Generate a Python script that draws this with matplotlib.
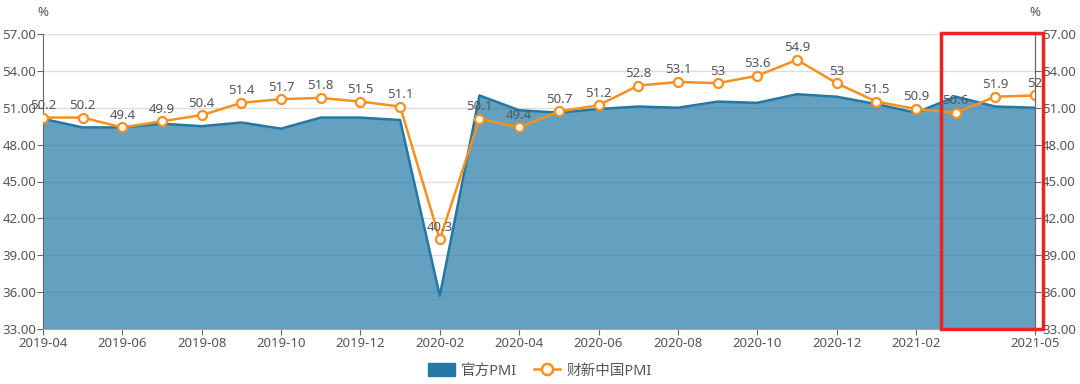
# %% Modules

import numpy as np
import matplotlib.pyplot as plt
import matplotlib.patches as mpatches
from matplotlib.lines import Line2D

plt.rcParams["font.family"] = ["Noto Sans", "Noto Sans CJK SC", "DejaVu Sans"]

# %% Data

months = [
    "2019-04", "2019-05", "2019-06", "2019-07", "2019-08", "2019-09", "2019-10",
    "2019-11", "2019-12", "2020-01", "2020-02", "2020-03", "2020-04", "2020-05",
    "2020-06", "2020-07", "2020-08", "2020-09", "2020-10", "2020-11", "2020-12",
    "2021-01", "2021-02", "2021-03", "2021-04", "2021-05",
]
official_pmi = [
    50.1, 49.4, 49.4, 49.7, 49.5, 49.8, 49.3, 50.2, 50.2, 50.0, 35.7, 52.0, 50.8,
    50.6, 50.9, 51.1, 51.0, 51.5, 51.4, 52.1, 51.9, 51.3, 50.6, 51.9, 51.1, 51.0,
]
caixin_pmi = [
    50.2, 50.2, 49.4, 49.9, 50.4, 51.4, 51.7, 51.8, 51.5, 51.1, 40.3, 50.1, 49.4,
    50.7, 51.2, 52.8, 53.1, 53.0, 53.6, 54.9, 53.0, 51.5, 50.9, 50.6, 51.9, 52.0,
]
tick_labels = ["2019-04", "2019-06", "2019-08", "2019-10", "2019-12", "2020-02",
               "2020-04", "2020-06", "2020-08", "2020-10", "2020-12", "2021-02", "2021-05"]

# %% Plot setup

text_color = "#555555"
axis_color = "#666666"
blue = "#2378a6"
orange = "#f7901e"

fig = plt.figure(figsize = (10.8, 3.84), dpi = 100)
ax = fig.add_axes([43 / 1080, 55 / 384, 992 / 1080, 295 / 384])

x = np.arange(len(months))

ax.fill_between(x, 33, official_pmi, color = blue, alpha = 0.7, linewidth = 0, zorder = 1)
ax.plot(x, official_pmi, color = blue, linewidth = 1.8, zorder = 2)
ax.plot(x, caixin_pmi, color = orange, linewidth = 1.8, marker = "o", markersize = 6.5,
        markerfacecolor = "white", markeredgecolor = orange, markeredgewidth = 1.6, zorder = 4)

for xi, val in zip(x, caixin_pmi):
    label = f"{val:g}"
    ax.annotate(label, (xi, val), xytext = (0, 4), textcoords = "offset points",
                ha = "center", va = "bottom", fontsize = 9.5, color = text_color, zorder = 5)

ax.set_xlim(0, len(months) - 1)
ax.set_ylim(33, 57)
ax.set_yticks(np.arange(33, 58, 3))
ax.set_yticklabels([f"{v:.2f}" for v in np.arange(33, 58, 3)])
ax.grid(axis = "y", color = "#dcdcdc", linewidth = 1, zorder = 0)
ax.set_axisbelow(True)

ax.set_xticks([months.index(m) for m in tick_labels])
ax.set_xticklabels(tick_labels)

ax.spines["top"].set_visible(False)
ax.spines["left"].set_color(axis_color)
ax.spines["right"].set_color(axis_color)
ax.spines["bottom"].set_color("#aaaaaa")
ax.tick_params(axis = "both", colors = axis_color, labelcolor = text_color, labelsize = 9.5, length = 4)
ax.tick_params(axis = "y", pad = 1)
ax.tick_params(axis = "x", pad = 2)

ax2 = ax.twinx()
ax2.set_ylim(33, 57)
ax2.set_yticks(np.arange(33, 58, 3))
ax2.set_yticklabels([f"{v:.2f}" for v in np.arange(33, 58, 3)])
ax2.spines["top"].set_visible(False)
ax2.spines["left"].set_visible(False)
ax2.spines["bottom"].set_visible(False)
ax2.spines["right"].set_color(axis_color)
ax2.tick_params(axis = "y", colors = axis_color, labelcolor = text_color, labelsize = 9.5, length = 4, pad = 1)

fig.text(43 / 1080, 1 - 12 / 384, "%", ha = "center", va = "center", fontsize = 9.5, color = text_color)
fig.text(1035 / 1080, 1 - 12 / 384, "%", ha = "center", va = "center", fontsize = 9.5, color = text_color)

# Red highlight box

fig.patches.append(mpatches.Rectangle((941 / 1080, 1 - 329 / 384), 102 / 1080, 296 / 384,
                                      transform = fig.transFigure, fill = False,
                                      edgecolor = "#ee2222", linewidth = 2.5, zorder = 10))

# Legend

handles = [
    mpatches.Patch(facecolor = blue, edgecolor = blue),
    Line2D([0], [0], color = orange, linewidth = 1.8, marker = "o", markersize = 8,
           markerfacecolor = "white", markeredgecolor = orange, markeredgewidth = 1.8),
]
fig.legend(handles, ["官方PMI", "财新中国PMI"], loc = "center", bbox_to_anchor = (0.5, 1 - 371 / 384),
           ncol = 2, frameon = False, fontsize = 10.5, labelcolor = text_color,
           handlelength = 1.8, handleheight = 1.0, columnspacing = 1.2, handletextpad = 0.4)

# %% Save

fig.savefig("out.png", dpi = 100)
